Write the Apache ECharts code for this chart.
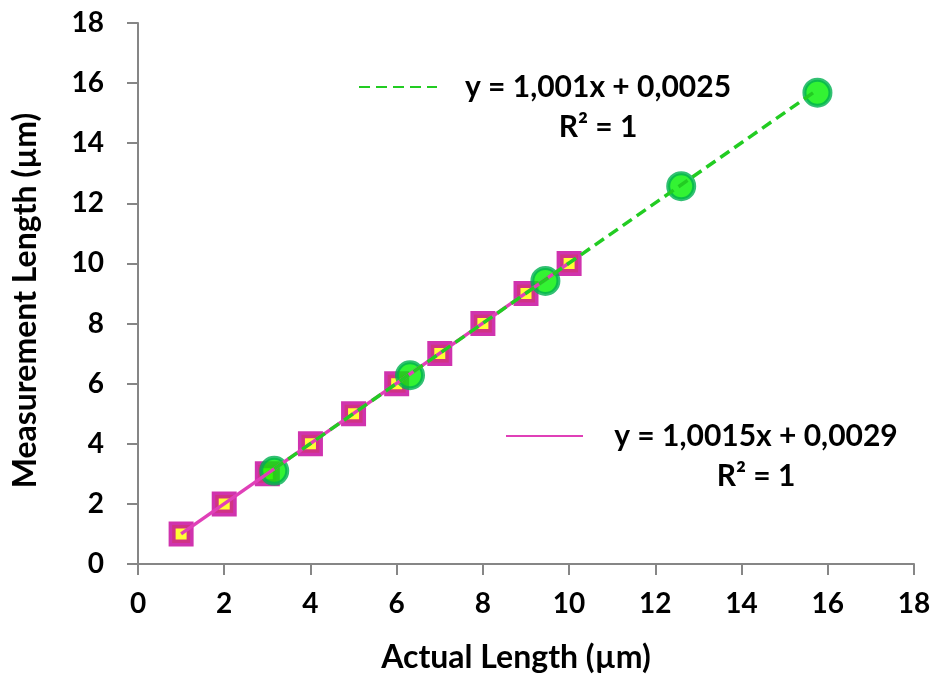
<!DOCTYPE html>
<html>
<head>
<meta charset="utf-8">
<script src="https://cdn.jsdelivr.net/npm/echarts@6/dist/echarts.min.js"></script>
<style>
  html, body { margin: 0; padding: 0; background: #fff; }
  #chart { width: 936px; height: 682px; }
</style>
</head>
<body>
<div id="chart"></div>
<script>
// squares: 1..10 µm lengths
const squareActual = [1, 2, 3, 4, 5, 6, 7, 8, 9, 10]
const squareMeasured = [1, 2, 3, 4, 5, 6, 7, 8, 9, 10]
// circles
const circleActual = [3.16, 6.31, 9.45, 12.6, 15.76]
const circleMeasured = [3.1, 6.28, 9.42, 12.57, 15.68]
// trendline equations printed on the chart
const squareFit = { slope: 1.0015, intercept: 0.0029, label: 'y = 1,0015x + 0,0029' }
const circleFit = { slope: 1.001, intercept: 0.0025, label: 'y = 1,001x + 0,0025' }
const r2Label = 'R² = 1'
const axisTicks = [0, 2, 4, 6, 8, 10, 12, 14, 16, 18]

const font = 'Lato'

function pairs(xs, ys) {
  let out = []
  for (let i = 0; i < xs.length; i++) {
    out.push([xs[i], ys[i]])
  }
  return out
}

function fitLine(xs, fit) {
  let lo = Math.min(...xs)
  let hi = Math.max(...xs)
  return [[lo, fit.slope * lo + fit.intercept], [hi, fit.slope * hi + fit.intercept]]
}

let chart = echarts.init(document.getElementById('chart'))

const axisCommon = {
  type: 'value',
  min: axisTicks[0],
  max: axisTicks[axisTicks.length - 1],
  interval: 2,
  nameLocation: 'middle',
  axisLine: { show: true, lineStyle: { color: '#868686', width: 2 } },
  axisTick: { show: true, inside: false, length: 11, lineStyle: { color: '#868686', width: 2 } },
  splitLine: { show: false },
  axisLabel: { fontFamily: font, fontWeight: 'bold', fontSize: 28, color: '#000' }
}

function legendText(width) {
  return {
    fontFamily: font, fontWeight: 'bold', fontSize: 30, color: '#000', lineHeight: 40,
    rich: { a: { fontFamily: font, fontWeight: 'bold', fontSize: 30, color: '#000', lineHeight: 40, width: width, align: 'center' } }
  }
}

chart.setOption({
  animation: false,
  backgroundColor: '#fff',
  grid: {
    left: 138,
    right: 22,
    top: 23,
    bottom: 118
  },
  xAxis: Object.assign({}, axisCommon, {
    name: 'Actual Length (µm)',
    nameGap: 78,
    nameTextStyle: { fontFamily: font, fontWeight: 'bold', fontSize: 32, color: '#000', padding: [0, 20, 0, 0] },
    axisLabel: Object.assign({}, axisCommon.axisLabel, { margin: 26 })
  }),
  yAxis: Object.assign({}, axisCommon, {
    name: 'Measurement Length (µm)',
    nameGap: 96,
    nameTextStyle: { fontFamily: font, fontWeight: 'bold', fontSize: 32, color: '#000', padding: [0, 14, 0, 0] },
    axisLabel: Object.assign({}, axisCommon.axisLabel, { margin: 34 })
  }),
  legend: [
    {
      data: ['circleFit'],
      left: 358,
      top: 27,
      padding: 0,
      itemWidth: 78,
      itemHeight: 4,
      itemStyle: { opacity: 0 },
      textStyle: legendText(312),
      formatter: function () {
        return '\n{a|' + circleFit.label + '}\n{a|' + r2Label + '}'
      },
      selectedMode: false
    },
    {
      data: ['squareFit'],
      left: 505,
      top: 376,
      padding: 0,
      itemWidth: 77,
      itemHeight: 4,
      itemStyle: { opacity: 0 },
      textStyle: legendText(336),
      formatter: function () {
        return '\n{a|' + squareFit.label + '}\n{a|' + r2Label + '}'
      },
      selectedMode: false
    }
  ],
  series: [
    {
      name: 'squares',
      type: 'scatter',
      symbol: 'rect',
      symbolSize: 18,
      z: 2,
      itemStyle: { color: '#FFFF00', borderColor: '#C4009A', borderWidth: 7 },
      data: pairs(squareActual, squareMeasured)
    },
    {
      name: 'circles',
      type: 'scatter',
      symbol: 'circle',
      symbolSize: 26,
      z: 3,
      itemStyle: { color: '#00F000', borderColor: '#00B050', borderWidth: 4 },
      data: pairs(circleActual, circleMeasured)
    },
    {
      name: 'squareFit',
      type: 'line',
      symbol: 'none',
      z: 4,
      lineStyle: { color: '#E040B8', width: 3.5 },
      itemStyle: { color: '#E040B8' },
      data: fitLine(squareActual, squareFit)
    },
    {
      name: 'circleFit',
      type: 'line',
      symbol: 'none',
      z: 5,
      lineStyle: { color: '#22CC22', width: 3.5, type: [11, 6] },
      itemStyle: { color: '#22CC22' },
      data: fitLine(circleActual, circleFit)
    }
  ]
})
</script>
</body>
</html>
